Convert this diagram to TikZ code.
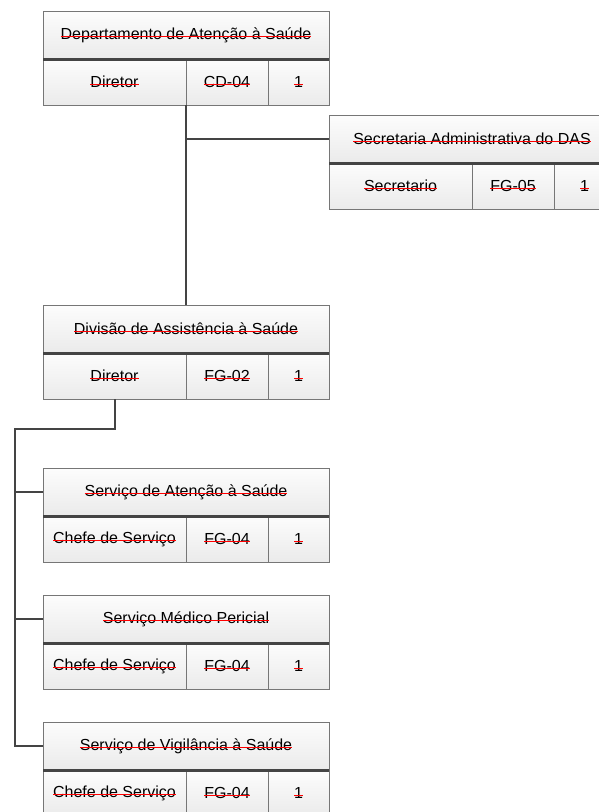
\documentclass[tikz,border=0pt]{standalone}
\usepackage{fontspec}
\setmainfont{Liberation Sans}
\usepackage{tikz}

\definecolor{borda}{HTML}{767676}
\definecolor{linha}{HTML}{444444}
\definecolor{vermelho}{HTML}{FF0000}

\tikzset{
    caixa/.style = {draw = borda, line width = 0.8pt, top color = gray!2, bottom color = gray!16,
        inner sep = 0pt, outer sep = 0pt, minimum height = 46pt, anchor = north west},
    texto/.style = {inner sep = 0pt, outer sep = 0pt, font = \fontsize{16}{19}\selectfont},
    separador/.style = {draw = linha, line width = 3pt},
    ligacao/.style = {draw = linha, line width = 2pt},
    risco/.style = {draw = vermelho, line width = 1.2pt}
}

% texto riscado no centro de uma celula
\newcommand{\rotulo}[2]{%
    \node[texto] (#1-txt) at (#1.center) {#2};
    \draw[risco] ([yshift = 3pt]#1-txt.base west) -- ([yshift = 3pt]#1-txt.base east);
}

% #1 nome, #2 canto, #3 unidade, #4 cargo, #5 codigo, #6 quantidade
\newcommand{\unidade}[6]{%
    \node[caixa, minimum width = 286pt, minimum height = 48pt] (#1-titulo) at #2 {};
    \node[caixa, minimum width = 143pt] (#1-cargo) at (#1-titulo.south west) {};
    \node[caixa, minimum width = 82pt] (#1-cod) at (#1-cargo.north east) {};
    \node[caixa, minimum width = 61pt] (#1-qtd) at (#1-cod.north east) {};
    \draw[separador] (#1-titulo.south west) -- (#1-titulo.south east);
    \rotulo{#1-titulo}{#3}
    \rotulo{#1-cargo}{#4}
    \rotulo{#1-cod}{#5}
    \rotulo{#1-qtd}{#6}
}

\begin{document}
\begin{tikzpicture}[x = 1pt, y = -1pt]
        \clip (0, 0) rectangle (599, 812);
        \fill[white] (0, 0) rectangle (599, 812);

        \unidade{dep}{(43, 11)}{Departamento de Atenção à Saúde}{Diretor}{CD-04}{1}
        \unidade{sec}{(329, 115)}{Secretaria Administrativa do DAS}{Secretario}{FG-05}{1}
        \unidade{div}{(43, 305)}{Divisão de Assistência à Saúde}{Diretor}{FG-02}{1}
        \unidade{sat}{(43, 468)}{Serviço de Atenção à Saúde}{Chefe de Serviço}{FG-04}{1}
        \unidade{smp}{(43, 595)}{Serviço Médico Pericial}{Chefe de Serviço}{FG-04}{1}
        \unidade{vig}{(43, 722)}{Serviço de Vigilância à Saúde}{Chefe de Serviço}{FG-04}{1}

        % ligacoes
        \draw[ligacao] (dep-cargo.south east) -- (div-titulo.north);
        \draw[ligacao] (sec-titulo.west) -- (sec-titulo.west -| dep-cargo.south east);
        \coordinate (tronco) at (15, 429);
        \draw[ligacao] (div-cargo.south) |- (tronco) |- (vig-titulo.west);
        \draw[ligacao] (tronco |- sat-titulo.west) -- (sat-titulo.west);
        \draw[ligacao] (tronco |- smp-titulo.west) -- (smp-titulo.west);
    \end{tikzpicture}
\end{document}
